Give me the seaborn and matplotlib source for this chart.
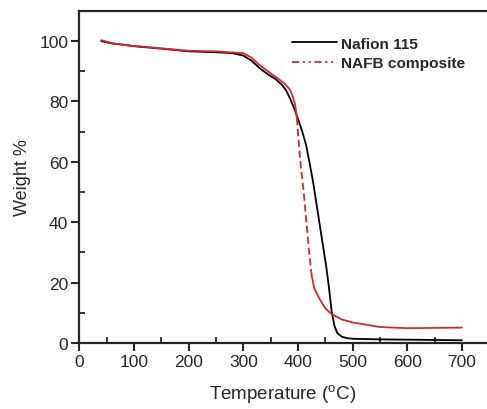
import matplotlib
matplotlib.use("Agg")
import matplotlib.pyplot as plt
from matplotlib.lines import Line2D
from matplotlib.ticker import MultipleLocator
import seaborn as sns
import pandas as pd
import numpy as np

sns.set_style("ticks")
plt.rcParams['font.family'] = ['Liberation Sans', 'DejaVu Sans']

# Nafion 115 (black)
nafion_T = [40, 60, 80, 100, 150, 200, 250, 280, 300, 315, 330, 345, 360, 370, 378, 385, 393,
            400, 408, 415, 422, 428, 434, 440, 446, 452, 457, 462, 467, 472, 480, 490,
            500, 550, 600, 650, 700]
nafion_W = [100, 99.2, 98.8, 98.3, 97.5, 96.6, 96.3, 96.0, 95.2, 93.5, 91.0, 89.0, 87.3, 85.6, 83.8, 81.2, 77.8,
            74.3, 70.0, 65.5, 59.0, 53.0, 46.0, 39.0, 32.0, 25.0, 18.0, 10.0, 5.5, 3.3, 2.1, 1.6,
            1.4, 1.2, 1.1, 1.0, 0.9]

# NAFB composite (red)
nafb_T = [40, 60, 80, 100, 150, 200, 250, 300, 315, 330, 345, 360, 375, 385, 390, 395,
          398, 401, 405, 410, 415, 420, 425, 430, 440, 450, 460, 480, 500, 550, 600, 650, 700]
nafb_W = [100.3, 99.3, 98.8, 98.4, 97.6, 96.8, 96.6, 96.0, 94.5, 92.0, 90.0, 88.0, 86.0, 84.0, 82.0, 78.8,
          74.5, 67.5, 59.0, 51.0, 41.0, 31.0, 22.5, 18.0, 14.5, 11.5, 9.8, 7.8, 6.8, 5.3, 4.9, 5.0, 5.1]

labels = ["Nafion 115", "NAFB composite"]
xticks = [0, 100, 200, 300, 400, 500, 600, 700]
yticks = [0, 20, 40, 60, 80, 100]

red = "#d42a2a"

fig = plt.figure(figsize=(4.87, 4.10), dpi=100)
ax = fig.add_axes([0.163, 0.161, 0.837, 0.810])

df_n = pd.DataFrame({"T": nafion_T, "W": nafion_W})
df_r = pd.DataFrame({"T": nafb_T, "W": nafb_W})

sns.lineplot(data=df_n, x="T", y="W", ax=ax, color="black", lw=1.3, sort=False)

# red: solid on plateaus, dashed during the steep drop
seg1 = df_r[df_r["T"] <= 398]
seg2 = df_r[(df_r["T"] >= 398) & (df_r["T"] <= 425)]
seg3 = df_r[df_r["T"] >= 425]
sns.lineplot(data=seg1, x="T", y="W", ax=ax, color=red, lw=1.3, sort=False)
sns.lineplot(data=seg2, x="T", y="W", ax=ax, color=red, lw=1.3, sort=False,
             linestyle=(0, (4, 2)))
sns.lineplot(data=seg3, x="T", y="W", ax=ax, color=red, lw=1.3, sort=False)

ax.set_xlim(0, 746)
ax.set_ylim(0, 110)
ax.set_xticks(xticks)
ax.set_yticks(yticks)
ax.xaxis.set_minor_locator(MultipleLocator(50))
ax.yaxis.set_minor_locator(MultipleLocator(10))
ax.tick_params(which="major", direction="out", length=6, width=1.5, labelsize=12.5, pad=2)
ax.tick_params(which="minor", direction="in", length=4, width=1.3)
for s in ["left", "bottom", "top"]:
    ax.spines[s].set_linewidth(1.6)
ax.spines["right"].set_visible(False)

ax.set_xlabel("Temperature ($\\mathregular{^{o}}$C)", fontsize=13.5, labelpad=9)
ax.set_ylabel("Weight %", fontsize=13, labelpad=6)

handles = [Line2D([], [], color="black", lw=1.3),
           Line2D([], [], color=red, lw=1.3, linestyle=(0, (4, 2, 1.2, 2, 1.2, 2)))]
leg = ax.legend(handles, labels, loc="upper left", bbox_to_anchor=(0.495, 0.955),
                frameon=False, prop={"weight": "bold", "size": 11.1},
                handlelength=2.9, handletextpad=0.3, labelspacing=0.35, borderpad=0.2)

fig.savefig("out.png", dpi=100)
